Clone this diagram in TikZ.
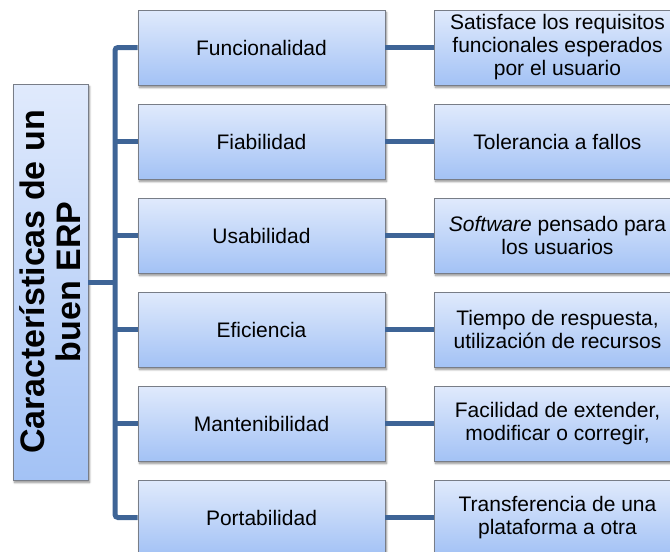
\documentclass[tikz,border=0pt]{standalone}
\usepackage{fontspec}
\setmainfont{Liberation Sans}
\usetikzlibrary{shadows.blur}
\definecolor{boxtop}{RGB}{224,234,252}
\definecolor{boxbot}{RGB}{163,194,245}
\definecolor{linecol}{RGB}{62,100,150}
\definecolor{boxedge}{RGB}{120,125,135}
\begin{document}
\begin{tikzpicture}[x=1pt,y=-1pt,
  box/.style={draw=boxedge, line width=0.8pt, top color=boxtop, bottom color=boxbot,
    minimum width=247pt, minimum height=75pt, inner sep=0pt, align=center,
    font=\fontsize{21}{23}\selectfont,
    blur shadow={shadow xshift=1.5pt, shadow yshift=-2.5pt, shadow blur steps=6, shadow opacity=45}},
  conn/.style={draw=linecol, line width=5pt, rounded corners=3pt},
  titletext/.style={rotate=90, align=center, inner sep=0pt, font=\fontsize{34}{36}\selectfont\bfseries}]
\useasboundingbox (0,0) rectangle (670,552);
\node[box, minimum width=75pt, minimum height=396pt] (title) at (50.5,282) {};
\node[titletext] (tt) at (title.center) {Características de un\\buen ERP};
\node[box] (m1) at (261.5,47.5) {Funcionalidad};
\node[box] (m2) at (261.5,141.5) {Fiabilidad};
\node[box] (m3) at (261.5,235.5) {Usabilidad};
\node[box] (m4) at (261.5,329.5) {Eficiencia};
\node[box] (m5) at (261.5,423.5) {Mantenibilidad};
\node[box] (m6) at (261.5,517.5) {Portabilidad};
\node[box] (r1) at (557.5,47.5) {Satisface los requisitos\\funcionales esperados\\por el usuario};
\node[box] (r2) at (557.5,141.5) {Tolerancia a fallos};
\node[box] (r3) at (557.5,235.5) {\textit{Software} pensado para\\los usuarios};
\node[box] (r4) at (557.5,329.5) {Tiempo de respuesta,\\utilización de recursos};
\node[box] (r5) at (557.5,423.5) {Facilidad de extender,\\modificar o corregir,};
\node[box] (r6) at (557.5,517.5) {Transferencia de una\\plataforma a otra};
\coordinate (trunk) at (115,0);
\draw[conn] (m1.west) -- (m1.west -| trunk) -- (m6.west -| trunk) -- (m6.west);
\foreach \i in {2,3,4,5} {\draw[conn] (m\i.west) -- (m\i.west -| trunk);}
\draw[conn] (title.east) -- (title.east -| trunk);
\foreach \i in {1,...,6} {\draw[conn] (m\i.east) -- (r\i.west);}
\end{tikzpicture}
\end{document}
